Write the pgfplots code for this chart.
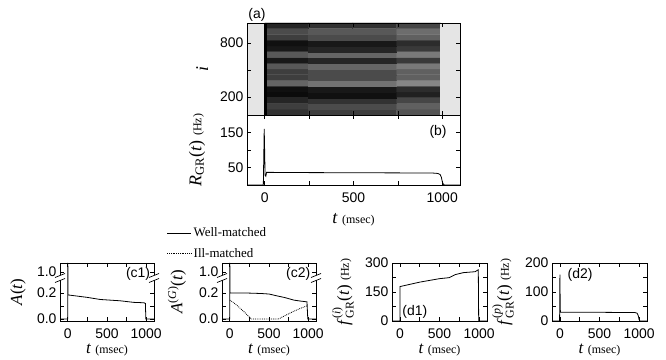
\documentclass[border=0pt]{standalone}
\usepackage{pgfplots}
\pgfplotsset{compat=1.18}
\usepackage{fontspec}
\usepackage{amsmath}
\setmainfont{Liberation Serif}
\newfontfamily\arial{Liberation Sans}
\newcommand{\unitfont}{\fontsize{12}{12}\selectfont}
\tikzset{
  plt/.style={line width=0.8bp, black},
  lbl/.style={font=\arial\fontsize{14}{14}\selectfont},
}
\newcommand{\brk}[1]{%
  \fill[white] ([xshift=-2bp,yshift=-2.5bp]axis cs:#1,0.315) rectangle ([xshift=2bp,yshift=2.5bp]axis cs:#1,0.315);
  \draw[line width=0.7bp] ([xshift=-5bp,yshift=-4.5bp]axis cs:#1,0.315) -- ([xshift=5bp,yshift=-0.5bp]axis cs:#1,0.315);
  \draw[line width=0.7bp] ([xshift=-5bp,yshift=0.5bp]axis cs:#1,0.315) -- ([xshift=5bp,yshift=4.5bp]axis cs:#1,0.315);
}
\pgfplotsset{
  myax/.style={scale only axis, xmin=-100, xmax=1100,
    tick align=inside, major tick length=4bp, minor tick length=4bp,
    axis line style={line width=0.8bp},
    every tick/.style={line width=0.7bp, black},
    tick label style={font=\arial\fontsize{14}{14}\selectfont},
    xticklabel style={yshift=-4bp},
    /pgf/number format/assume math mode=true,
    xtick={0,500,1000}, minor xtick={250,750}, xticklabels={0,500,1000},
    label style={font=\fontsize{18}{18}\selectfont},
    xlabel style={at={(axis description cs:0.5,-0.5)}, anchor=center},
  },
  smallax/.style={myax, width=94bp, height=58bp,
    label style={font=\fontsize{17}{17}\selectfont},
    xlabel={\textit{t} {\unitfont (msec)}},
  },
}
\begin{document}
\begin{tikzpicture}
% (a) raster (density of spikes)
\begin{axis}[myax, at={(247bp,245bp)}, anchor=south west, width=213bp, height=92bp,
  ymin=0, ymax=1024, ytick={200,500,800}, yticklabels={200,,800}, xticklabels={},
  axis on top, clip=false, ylabel={\textit{i}},
  ylabel style={at={(axis description cs:-0.21,0.5)}, anchor=center},
  colormap={bw}{gray(0cm)=(1); gray(1cm)=(0)}, point meta min=0, point meta max=1]
\addplot[matrix plot*, mesh/cols=4, point meta=explicit] table[meta=c] {
x y c
123.75 32 0.80
371.25 32 0.75
618.75 32 0.75
866.25 32 0.67
123.75 96 0.75
371.25 96 0.70
618.75 96 0.70
866.25 96 0.62
123.75 160 0.85
371.25 160 0.80
618.75 160 0.80
866.25 160 0.72
123.75 224 0.95
371.25 224 0.93
618.75 224 0.93
866.25 224 0.87
123.75 288 0.93
371.25 288 0.90
618.75 288 0.90
866.25 288 0.82
123.75 352 0.60
371.25 352 0.55
618.75 352 0.55
866.25 352 0.47
123.75 416 0.75
371.25 416 0.70
618.75 416 0.70
866.25 416 0.62
123.75 480 0.75
371.25 480 0.70
618.75 480 0.70
866.25 480 0.62
123.75 544 0.65
371.25 544 0.60
618.75 544 0.60
866.25 544 0.52
123.75 608 0.90
371.25 608 0.85
618.75 608 0.85
866.25 608 0.77
123.75 672 0.65
371.25 672 0.60
618.75 672 0.60
866.25 672 0.52
123.75 736 0.90
371.25 736 0.85
618.75 736 0.85
866.25 736 0.77
123.75 800 0.93
371.25 800 0.90
618.75 800 0.90
866.25 800 0.82
123.75 864 0.75
371.25 864 0.70
618.75 864 0.70
866.25 864 0.62
123.75 928 0.70
371.25 928 0.65
618.75 928 0.65
866.25 928 0.57
123.75 992 0.85
371.25 992 0.80
618.75 992 0.80
866.25 992 0.72
};
\addplot[fill=black, draw=none] coordinates {(-5,0) (15,0) (15,1024) (-5,1024)} -- cycle;
\addplot[fill=black!10, draw=none] coordinates {(-100,0) (-5,0) (-5,1024) (-100,1024)} -- cycle;
\addplot[fill=black!10, draw=none] coordinates {(990,0) (1100,0) (1100,1024) (990,1024)} -- cycle;
\node[lbl] at (axis description cs:0.047,1.09) {(a)};
\end{axis}
% (b) population rate
\begin{axis}[myax, at={(247bp,175bp)}, anchor=south west, width=213bp, height=70bp,
  ymin=0, ymax=200, ytick={50,150}, minor ytick={100},
  xlabel={\textit{t} {\unitfont (msec)}},
  ylabel={\textit{R}$_{\text{GR}}$(\textit{t}) {\unitfont (Hz)}},
  ylabel style={at={(axis description cs:-0.235,0.5)}, anchor=center}]
\addplot[plt] coordinates {(-100,0) (-8,0) (-3,160) (2,28) (6,25) (10,36) (50,36) (200,35.5) (500,35) (800,34.5) (950,34) (975,33) (988,30) (995,22) (1000,10) (1005,3) (1012,0) (1100,0)};
\node[lbl] at (axis description cs:0.897,0.757) {(b)};
\end{axis}
% (c1)
\begin{axis}[smallax, at={(60bp,39bp)}, anchor=south west, clip=false,
  ymin=-0.015, ymax=0.43, ytick={0,0.2,0.36}, yticklabels={0.0,0.2,1.0}, minor ytick={0.1},
  ylabel={\textit{A}(\textit{t})},
  ylabel style={at={(axis description cs:-0.447,0.5)}, anchor=center}]
\addplot[plt] coordinates {(-100,0) (0,0) (0,0.43) (2,0.185) (240,0.167) (415,0.15) (670,0.14) (840,0.128) (970,0.125) (990,0.12) (996,0) (1100,0)};
\brk{-100}
\brk{1100}
\node[lbl] at (axis description cs:0.83,0.82) {(c1)};
\end{axis}
% (c2)
\begin{axis}[smallax, at={(222bp,39bp)}, anchor=south west, clip=false,
  ymin=-0.015, ymax=0.43, ytick={0,0.2,0.36}, yticklabels={0.0,0.2,1.0}, minor ytick={0.1},
  ylabel={\textit{A}$^{\text{(\textit{G})}}$(\textit{t})},
  ylabel style={at={(axis description cs:-0.48,0.5)}, anchor=center},
  legend style={at={(axis description cs:-0.62,1.68)}, anchor=north west, draw=none, fill=none,
    font=\fontsize{13}{13}\selectfont, row sep=6bp},
  legend cell align=left,
  legend image code/.code={\draw[#1] (0bp,0bp) -- (24bp,0bp);}]
\addplot[plt] coordinates {(-100,0) (0,0) (0,0.43) (2,0.2) (200,0.2) (400,0.196) (500,0.192) (600,0.178) (700,0.165) (820,0.145) (900,0.138) (985,0.132) (995,0) (1100,0)};
\addlegendentry{Well-matched}
\addplot[plt, densely dotted] coordinates {(0,0.145) (50,0.125) (100,0.1) (150,0.073) (200,0.045) (240,0.02) (275,0) (620,0) (700,0.025) (800,0.055) (900,0.082) (980,0.1) (995,0.1)};
\addlegendentry{Ill-matched}
\brk{-100}
\brk{1100}
\node[lbl] at (axis description cs:0.81,0.82) {(c2)};
\end{axis}
% (d1)
\begin{axis}[smallax, at={(392bp,39bp)}, anchor=south west, width=95bp,
  ymin=0, ymax=300, ytick={0,150,300}, minor ytick={75,225},
  ylabel={\textit{f}$^{\text{(\textit{i})}}_{\text{GR}}$(\textit{t}) {\unitfont (Hz)}},
  ylabel style={at={(axis description cs:-0.516,0.5)}, anchor=center}]
\addplot[plt] coordinates {(-100,0) (0,0) (0,178) (250,201) (500,219) (620,224) (700,240) (800,250) (950,255) (990,265) (995,0) (1100,0)};
\node[lbl] at (axis description cs:0.24,0.15) {(d1)};
\end{axis}
% (d2)
\begin{axis}[smallax, at={(552bp,39bp)}, anchor=south west, width=95bp,
  ymin=0, ymax=200, ytick={0,100,200}, minor ytick={50,150},
  ylabel={\textit{f}$^{\text{(\textit{p})}}_{\text{GR}}$(\textit{t}) {\unitfont (Hz)}},
  ylabel style={at={(axis description cs:-0.516,0.5)}, anchor=center}]
\addplot[plt] coordinates {(-100,0) (-4,0) (0,160) (4,40) (8,30) (50,30) (500,30) (950,29) (975,27) (990,18) (1000,5) (1010,0) (1100,0)};
\node[lbl] at (axis description cs:0.295,0.8) {(d2)};
\end{axis}
\pgfresetboundingbox
\useasboundingbox (0,0) rectangle (666bp,360bp);
\end{tikzpicture}
\end{document}
